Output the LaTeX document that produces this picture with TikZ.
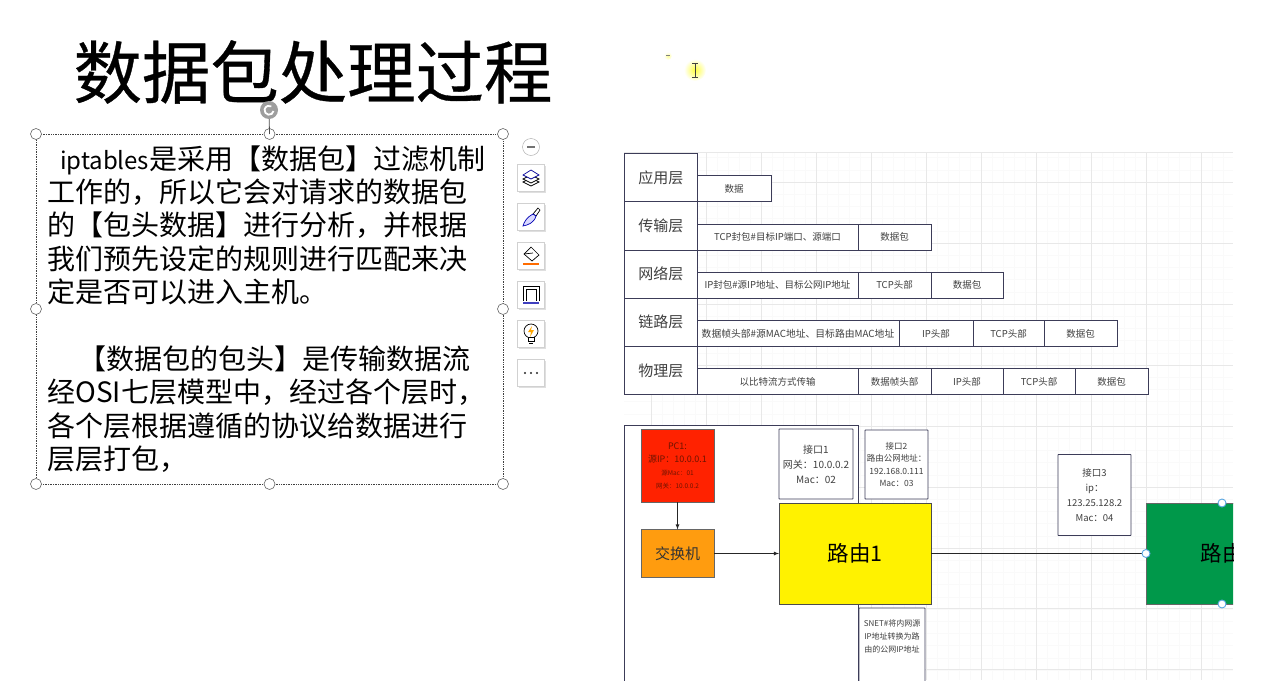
\documentclass[tikz,border=0pt]{standalone}
\usepackage{fontspec}
\setmainfont{Noto Sans CJK SC}
\newfontfamily\titlefont[FakeBold=0.5]{Noto Sans CJK SC}
\usepackage{tikz}
\usetikzlibrary{arrows,positioning,shadows}
\definecolor{edgeblue}{HTML}{3C3C58}
\definecolor{textgray}{HTML}{404040}
\definecolor{handleblue}{HTML}{5AA5E0}
\tikzstyle{layer} = [draw=edgeblue, line width=1pt, fill=white, text=textgray, outer sep=0pt, inner sep=1pt,
minimum width=72.5pt, minimum height=48.2pt, font=\fontsize{15}{18}\selectfont]
\tikzstyle{cell} = [draw=edgeblue, line width=1pt, fill=white, text=textgray, outer sep=0pt, inner sep=1pt,
minimum height=26pt, font=\fontsize{9.5}{12}\selectfont]
\tikzstyle{infobox} = [draw=edgeblue, line width=0.9pt, fill=white, text=textgray, outer sep=0pt, inner sep=1pt,
align=center, rounded corners=0.5pt]
\tikzstyle{router} = [draw=black!70, line width=0.9pt, outer sep=0pt, minimum width=152pt, minimum height=101pt,
text=black, font=\fontsize{21.5}{26}\selectfont]
\tikzstyle{handle} = [circle, draw=black!60, fill=white, line width=0.6pt, minimum size=11pt, inner sep=0pt]
\tikzstyle{anchorpt} = [circle, draw=handleblue, fill=white, line width=0.9pt, minimum size=8pt, inner sep=0pt]
\tikzstyle{toolbtn} = [draw=black!18, fill=white, outer sep=0pt, minimum size=27pt, inner sep=0pt,
drop shadow={opacity=0.25, shadow xshift=1pt, shadow yshift=-1pt}]
\tikzstyle{tedge} = [draw, line width=0.8pt, black!85, >=latex, ->]

\begin{document}
\begin{tikzpicture}[x=1pt, y=-1pt]
\useasboundingbox (0,0) rectangle (1279,699);

% title and text box
\node[inner sep=0pt, font=\titlefont\fontsize{68.4}{71}\selectfont] (title) at (313,72) {数据包处理过程};

\node[draw=black!75, densely dotted, line width=0.7pt, minimum width=467pt, minimum height=350pt, outer sep=0pt,
inner xsep=11.5pt, inner ysep=0pt, text width=444pt, align=left, font=\fontsize{28}{33.4}\selectfont] (selbox) at (269.5,309)
{\hspace*{12.5pt}\mbox{\fontsize{24}{33.4}\selectfont iptables}是采用【数据包】过滤机制\\
工作的，所以它会对请求的数据包\\
的【包头数据】进行分析，并根据\\
我们预先设定的规则进行匹配来决\\
定是否可以进入主机。\\
\mbox{}\\
\hspace*{31pt}【数据包的包头】是传输数据流\\
经OSI七层模型中，经过各个层时，\\
各个层根据遵循的协议给数据进行\\
层层打包，};

\foreach \a in {north west, north, north east, west, east, south west, south, south east}
  \node[handle] at (selbox.\a) {};
\node[circle, fill=black!38, minimum size=18pt, inner sep=0pt] (rotor) at (269,110) {};
\draw[line width=0.8pt, black!70] (rotor) -- (selbox.north);
\draw[white, line width=1.8pt] (rotor.center) ++(4.5,1) arc (10:300:4.5);

% side toolbar
\node[circle, draw=black!35, fill=white, minimum size=17pt, inner sep=0pt] (collapse) at (531,147) {};
\draw[black!55, line width=1.2pt] ([xshift=-4pt]collapse.center) -- ([xshift=4pt]collapse.center);
\node[toolbtn] (btnlayers) at (531,178) {};
\node[toolbtn, below=12pt of btnlayers] (btnbrush) {};
\node[toolbtn, below=12pt of btnbrush] (btnfill) {};
\node[toolbtn, below=12pt of btnfill] (btnframe) {};
\node[toolbtn, below=12pt of btnframe] (btnidea) {};
\node[toolbtn, below=12pt of btnidea] (btnmore) {};

\begin{scope}[shift={(btnlayers.center)}, line width=0.7pt]
\draw[black] (-8,4) -- (0,0) -- (8,4) -- (0,8) -- cycle;
\draw[black, fill=white] (-8,1) -- (0,-3) -- (8,1) -- (0,5) -- cycle;
\draw[blue!60!black, fill=white] (-8,-3) -- (0,-8) -- (8,-3) -- (0,1) -- cycle;
\end{scope}
\begin{scope}[shift={(btnbrush.center)}, line width=0.7pt]
\draw[black, fill=white] (2,-3) -- (7,-9) -- (9,-7) -- (5,-1) -- cycle;
\draw[blue!70!black, fill=blue!15] (2,-3) -- (5,-1) .. controls (3,6) and (-3,8) .. (-8,9) .. controls (-7,5) and (-4,0) .. (2,-3);
\end{scope}
\begin{scope}[shift={(btnfill.center)}, line width=0.7pt]
\draw[black] (0,-9) -- (8,-1) -- (1,5) -- (-7,-2) -- cycle;
\draw[black] (-7,-2) -- (2,-3);
\fill[orange!85!red] (-8,7) rectangle (8,9);
\end{scope}
\begin{scope}[shift={(btnframe.center)}, line width=0.7pt]
\draw[black] (-8,6) -- (-8,-9) -- (8,-9) -- (8,6);
\draw[black] (-5,6) -- (-5,-6) -- (5,-6) -- (5,6);
\fill[blue!50!gray] (-8,7) rectangle (8,9);
\end{scope}
\begin{scope}[shift={(btnidea.center)}, line width=0.7pt]
\draw[black] (0,-3) circle (7);
\draw[black, fill=white] (-3,3) rectangle (3,7);
\draw[black] (-2,9) -- (2,9);
\fill[orange!70!yellow] (1,-8) -- (-3,-2) -- (0,-2) -- (-1,3) -- (3,-4) -- (0,-4) -- cycle;
\end{scope}
\foreach \d in {-6,0,6}
  \fill[black!85] ([xshift=\d pt]btnmore.center) circle (1.1);

% mouse cursor
\shade[inner color=yellow!75, outer color=white] (695,70) circle (11);
\draw[black!75, line width=0.7pt] (692,63) -- (698,63) (695,63) -- (695,77) (692,77) -- (698,77);
\shade[inner color=yellow!40, outer color=white] (668,56) circle (4);
\draw[black!50, line width=0.4pt] (666,55.5) -- (670,55.5);

% drawing page
\begin{scope}
\clip (623,151) rectangle (1233,680);

\foreach \x in {651,662,...,1233} \draw[black!2, line width=0.5pt] (\x,152) -- (\x,680);
\foreach \y in {157.6,169.8,...,680} \draw[black!2, line width=0.5pt] (624,\y) -- (1233,\y);
\foreach \x in {651,706,...,1233} \draw[black!9, line width=0.7pt] (\x,152) -- (\x,680);
\foreach \y in {182,243,304,365,426,487,548,608,669} \draw[black!9, line width=0.7pt] (624,\y) -- (1233,\y);
\draw[black!9, line width=0.7pt] (624,152.5) -- (1233,152.5);

\node[layer] (app) at (660.75,177.7) {应用层};
\node[layer, below=0pt of app] (trans) {传输层};
\node[layer, below=0pt of trans] (net) {网络层};
\node[layer, below=0pt of net] (link) {链路层};
\node[layer, below=0pt of link] (phys) {物理层};

\node[cell, minimum width=74pt, anchor=south west] (appdata) at (app.south east) {数据};

\node[cell, minimum width=161pt, anchor=south west] (transhead) at (trans.south east) {TCP封包\#目标IP端口、源端口};
\node[cell, minimum width=73pt, right=0pt of transhead] (transdata) {数据包};

\node[cell, minimum width=161pt, anchor=south west] (nethead) at (net.south east) {IP封包\#源IP地址、目标公网IP地址};
\node[cell, minimum width=73pt, right=0pt of nethead] (nettcp) {TCP头部};
\node[cell, minimum width=72pt, right=0pt of nettcp] (netdata) {数据包};

\node[cell, minimum width=202pt, anchor=south west, font=\fontsize{9.8}{12}\selectfont] (linkhead) at (link.south east) {数据帧头部\#源MAC地址、目标路由MAC地址};
\node[cell, minimum width=74pt, right=0pt of linkhead] (linkip) {IP头部};
\node[cell, minimum width=71pt, right=0pt of linkip] (linktcp) {TCP头部};
\node[cell, minimum width=73pt, right=0pt of linktcp] (linkdata) {数据包};

\node[cell, minimum width=161pt, anchor=south west] (physbits) at (phys.south east) {以比特流方式传输};
\node[cell, minimum width=73pt, right=0pt of physbits] (physhead) {数据帧头部};
\node[cell, minimum width=72pt, right=0pt of physhead] (physip) {IP头部};
\node[cell, minimum width=72pt, right=0pt of physip] (phystcp) {TCP头部};
\node[cell, minimum width=73pt, right=0pt of phystcp] (physdata) {数据包};

\node[draw=edgeblue, line width=1pt, fill=white, minimum width=234pt, minimum height=300pt, outer sep=0pt,
anchor=north west] (lan) at (624.5,425) {};

\node[draw=black!60, line width=0.9pt, fill={rgb,255:red,255;green,34;blue,0}, minimum size=73pt, outer sep=0pt,
inner sep=0pt, align=center, text={rgb,255:red,110;green,20;blue,0}, font=\fontsize{9}{13}\selectfont] (pc) at (677.5,465.5)
{PC1:\\源IP：10.0.0.1\\{\fontsize{6.5}{13}\selectfont 源Mac：01}\\{\fontsize{6.5}{13}\selectfont 网关：10.0.0.2}};
\node[draw=black!60, line width=0.9pt, fill={rgb,255:red,255;green,156;blue,15}, minimum width=73pt, minimum height=48pt,
outer sep=0pt, below=27.5pt of pc, text=black!80, font=\fontsize{15}{18}\selectfont] (switch) {交换机};

\node[router, fill={rgb,255:red,255;green,242;blue,0}] (routerone) at (855,553.5) {路由1};
\node[router, fill={rgb,255:red,0;green,152;blue,74}, draw=black!60] (routertwo) at (1222,553.5) {路由};

\node[infobox, minimum width=74pt, minimum height=70pt, font=\fontsize{10}{15}\selectfont] (portone) at (816,464) {接口1\\网关：10.0.0.2\\Mac：02};
\node[infobox, minimum width=63pt, minimum height=69pt, font=\fontsize{8.5}{12.5}\selectfont] (porttwo) at (896.5,464.5) {接口2\\路由公网地址：\\192.168.0.111\\Mac：03};
\node[infobox, minimum width=73pt, minimum height=81pt, font=\fontsize{9.5}{15}\selectfont] (portthree) at (1094.5,495) {接口3\\ip：\\123.25.128.2\\Mac：04};

\node[infobox, minimum width=66pt, minimum height=90pt, anchor=north west] (snet) at (859,608) {};
\node[inner sep=0pt, below=12pt of snet.north, align=center, text=textgray, font=\fontsize{8}{12.7}\selectfont] (snettext)
{SNET\#将内网源\\IP地址转换为路\\由的公网IP地址};

\path[tedge] (pc) -- (switch);
\path[tedge] (switch.east) -- (routerone.west |- switch.east);
\draw[line width=0.8pt, black!85] (routerone) -- (routertwo);

\node[anchorpt] at (routertwo.north) {};
\node[anchorpt] at (routertwo.west) {};
\node[anchorpt] at (routertwo.south) {};
\end{scope}

\end{tikzpicture}
\end{document}
